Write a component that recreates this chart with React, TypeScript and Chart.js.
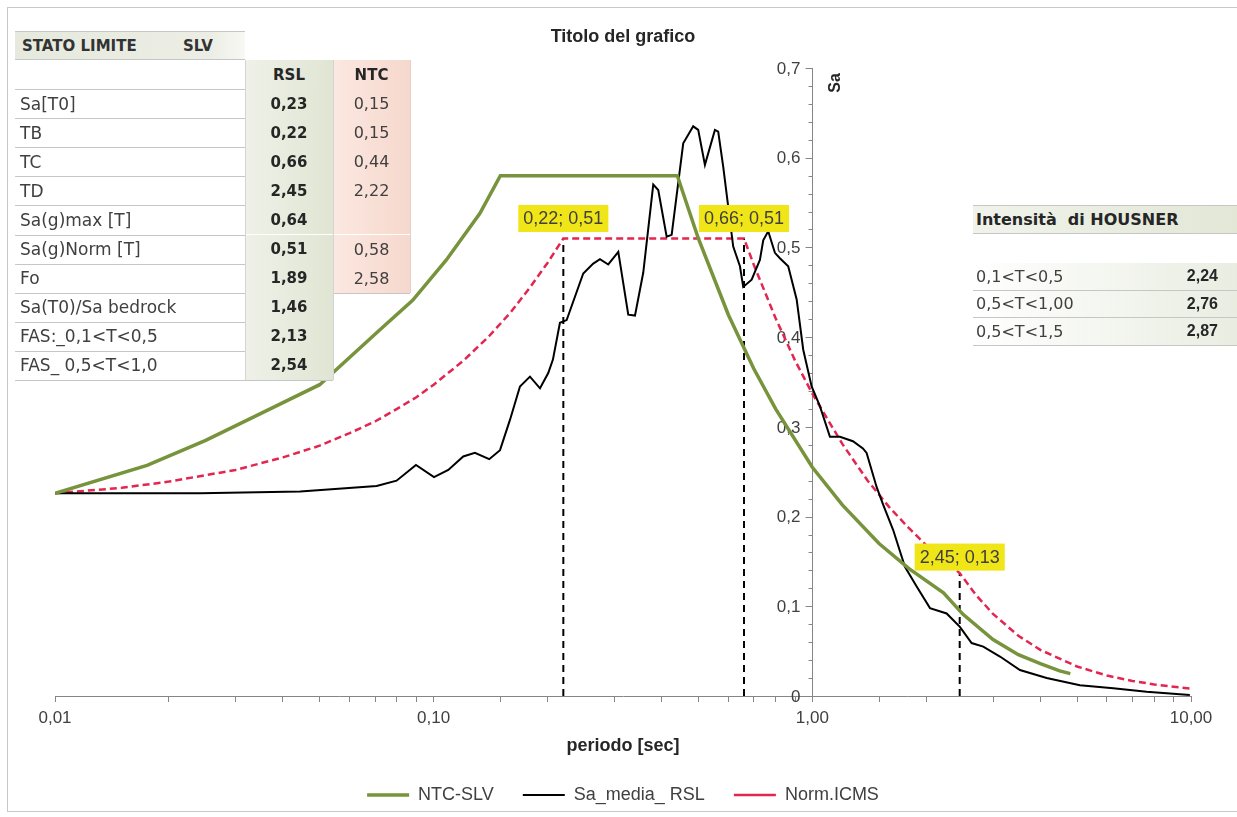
import React, { useEffect, useRef } from 'react';
import { Chart, registerables } from 'chart.js';

Chart.register(...registerables);

// ---------------- DATA ----------------
const seriesNames = ['NTC-SLV', 'Sa_media_ RSL', 'Norm.ICMS'];

const periodNTC = [0.01, 0.0175, 0.025, 0.035, 0.05, 0.072, 0.088, 0.108, 0.1325, 0.15, 0.44, 0.5, 0.6, 0.7, 0.8, 1.0, 1.2, 1.5, 1.8, 2.22, 2.5, 3.0, 3.5, 4.0, 4.5, 4.8];
const saNTC = [0.226, 0.257, 0.285, 0.315, 0.347, 0.408, 0.441, 0.486, 0.538, 0.58, 0.58, 0.51, 0.425, 0.365, 0.32, 0.255, 0.213, 0.17, 0.142, 0.115, 0.091, 0.063, 0.046, 0.036, 0.028, 0.025];

const periodRSL = [0.01, 0.0242, 0.0444, 0.0707, 0.0798, 0.0898, 0.1002, 0.1093, 0.1197, 0.1285, 0.1402, 0.1497, 0.1591, 0.169, 0.1796, 0.1909, 0.2007, 0.2065, 0.2155, 0.2245, 0.2483, 0.2639, 0.2749, 0.2891, 0.3073, 0.3265, 0.3401, 0.3577, 0.3801, 0.3918, 0.4124, 0.4251, 0.4561, 0.4846, 0.4996, 0.5204, 0.553, 0.5642, 0.5816, 0.6181, 0.6439, 0.6569, 0.6914, 0.727, 0.7419, 0.7647, 0.7965, 0.821, 0.8636, 0.9091, 0.9462, 0.9958, 1.047, 1.113, 1.183, 1.28, 1.36, 1.391, 1.478, 1.539, 1.635, 1.756, 1.886, 2.045, 2.263, 2.453, 2.634, 2.827, 3.13, 3.534, 4.157, 5.089, 6.232, 7.636, 9.93];
const saRSL = [0.226, 0.226, 0.228, 0.234, 0.240, 0.2575, 0.244, 0.252, 0.267, 0.271, 0.264, 0.274, 0.308, 0.345, 0.356, 0.343, 0.360, 0.375, 0.416, 0.419, 0.471, 0.482, 0.487, 0.481, 0.495, 0.425, 0.424, 0.472, 0.570, 0.564, 0.512, 0.514, 0.616, 0.635, 0.631, 0.592, 0.631, 0.629, 0.590, 0.501, 0.479, 0.456, 0.464, 0.486, 0.508, 0.518, 0.494, 0.488, 0.479, 0.442, 0.386, 0.345, 0.323, 0.289, 0.289, 0.284, 0.276, 0.271, 0.233, 0.213, 0.185, 0.144, 0.122, 0.098, 0.092, 0.077, 0.059, 0.055, 0.044, 0.029, 0.020, 0.012, 0.0086, 0.0048, 0.0011];

const periodICMS = [0.01, 0.015, 0.02, 0.03, 0.04, 0.05, 0.06, 0.07, 0.08, 0.09, 0.1, 0.12, 0.14, 0.16, 0.18, 0.2, 0.22, 0.66, 0.7, 0.8, 0.9, 1.0, 1.2, 1.4, 1.6, 1.8, 2.0, 2.2, 2.45, 2.7, 3.0, 3.5, 4.0, 5.0, 6.0, 7.0, 8.0, 9.0, 10.0];
const saICMS = [0.226, 0.232, 0.239, 0.252, 0.266, 0.279, 0.293, 0.306, 0.320, 0.333, 0.347, 0.374, 0.401, 0.428, 0.456, 0.483, 0.51, 0.51, 0.481, 0.421, 0.374, 0.337, 0.281, 0.240, 0.210, 0.187, 0.168, 0.153, 0.137, 0.113, 0.0915, 0.0672, 0.0514, 0.0329, 0.0228, 0.0168, 0.0129, 0.0102, 0.0082];

const markerT = [0.22, 0.66, 2.45];
const markerSa = [0.51, 0.51, 0.137];
const markerLabels = ['0,22; 0,51', '0,66; 0,51', '2,45; 0,13'];

const yTickValues = [0, 0.1, 0.2, 0.3, 0.4, 0.5, 0.6, 0.7];
const yTickLabels = ['0', '0,1', '0,2', '0,3', '0,4', '0,5', '0,6', '0,7'];
const xDecadeLabels = ['0,01', '0,10', '1,00', '10,00'];

const slRowLabels = ['Sa[T0]', 'TB', 'TC', 'TD', 'Sa(g)max [T]', 'Sa(g)Norm [T]', 'Fo', 'Sa(T0)/Sa bedrock', 'FAS:_0,1<T<0,5', 'FAS_ 0,5<T<1,0'];
const slRSL = ['0,23', '0,22', '0,66', '2,45', '0,64', '0,51', '1,89', '1,46', '2,13', '2,54'];
const slNTC: (string | null)[] = ['0,15', '0,15', '0,44', '2,22', '', '0,58', '2,58', null, null, null];

const housnerRanges = ['0,1<T<0,5', '0,5<T<1,00', '0,5<T<1,5'];
const housnerValues = ['2,24', '2,76', '2,87'];

// ---------------- STYLE ----------------
const SANS = '"Liberation Sans", Arial, Helvetica, sans-serif';
const TABLE_FONT = '"DejaVu Sans", Verdana, sans-serif';
const AXIS_COLOR = '#868686';
const TEXT_COLOR = '#404040';
const GREEN = '#77933C';
const RED = '#E3264F';
const YELLOW = '#F0E516';

const pairs = (xs: number[], ys: number[]) => xs.map((x, i) => ({ x, y: ys[i] }));
const decadeIndex = (v: number) => {
  const l = Math.log10(v);
  return Math.abs(l - Math.round(l)) < 1e-6 ? Math.round(l) + 2 : -1;
};

const yAxisPlugin = {
  id: 'valueYAxis',
  beforeDatasetsDraw(chart: any) {
    const { ctx, scales } = chart;
    const x = scales.x, y = scales.y;
    const ax = Math.round(x.getPixelForValue(1)) + 0.5;
    const yb = y.getPixelForValue(yTickValues[0]);
    const yt = y.getPixelForValue(yTickValues[yTickValues.length - 1]);
    ctx.save();
    ctx.strokeStyle = AXIS_COLOR;
    ctx.lineWidth = 1;
    ctx.beginPath();
    ctx.moveTo(ax, yb);
    ctx.lineTo(ax, yt);
    // minor ticks
    for (let k = 0; k <= 35; k++) {
      const py = Math.round(y.getPixelForValue(k * 0.02)) + 0.5;
      ctx.moveTo(ax - 4, py);
      ctx.lineTo(ax, py);
    }
    yTickValues.forEach((v) => {
      const py = Math.round(y.getPixelForValue(v)) + 0.5;
      ctx.moveTo(ax - 7, py);
      ctx.lineTo(ax, py);
    });
    ctx.stroke();
    ctx.fillStyle = TEXT_COLOR;
    ctx.font = `17px ${SANS}`;
    ctx.textAlign = 'right';
    ctx.textBaseline = 'middle';
    yTickValues.forEach((v, i) => {
      ctx.fillText(yTickLabels[i], ax - 12, y.getPixelForValue(v) + 1);
    });
    ctx.translate(ax + 23, yt + 15);
    ctx.rotate(-Math.PI / 2);
    ctx.font = `bold 16px ${SANS}`;
    ctx.textAlign = 'center';
    ctx.fillStyle = '#262626';
    ctx.fillText('Sa', 0, 0);
    ctx.restore();
  },
};

const LABEL_OFFSETS = [20, 20, 16];
const markerPlugin = {
  id: 'markerLabels',
  afterDatasetsDraw(chart: any) {
    const { ctx, scales } = chart;
    const x = scales.x, y = scales.y;
    ctx.save();
    ctx.font = `18px ${SANS}`;
    ctx.textAlign = 'center';
    ctx.textBaseline = 'middle';
    markerT.forEach((t, i) => {
      const px = x.getPixelForValue(t);
      const py = y.getPixelForValue(markerSa[i]) - LABEL_OFFSETS[i];
      const w = ctx.measureText(markerLabels[i]).width + 10;
      const h = 27;
      ctx.fillStyle = YELLOW;
      ctx.fillRect(px - w / 2, py - h / 2, w, h);
      ctx.fillStyle = TEXT_COLOR;
      ctx.fillText(markerLabels[i], px, py + 1);
    });
    ctx.restore();
  },
};

function Box(props: any) {
  const { left, top, width, height, style, children } = props;
  return (
    <div
      style={{
        position: 'absolute', left, top, width, height, boxSizing: 'border-box',
        display: 'flex', alignItems: 'center', ...style,
      }}
    >
      {children}
    </div>
  );
}

const LINE_C = '#c6c6c6';
const SAGE = 'linear-gradient(to right, #eff1e8, #e0e5d3)';
const PINK = 'linear-gradient(to right, #fbe8e1, #f6d8cd)';

function StatoLimiteTable() {
  const rowH = 29.1;
  const top0 = 89;
  const els: any[] = [];
  els.push(
    <Box key="t" left={15} top={31} width={230} height={29}
      style={{ background: 'linear-gradient(to right, #e6e9dd, #eceee5 85%, #f8f8f4)', borderTop: `1px solid ${LINE_C}`, borderBottom: `1px solid ${LINE_C}`, fontFamily: TABLE_FONT, fontWeight: 'bold', fontSize: 15, color: '#333' }}>
      <span style={{ position: 'absolute', left: 7 }}>STATO LIMITE</span>
      <span style={{ position: 'absolute', left: 168 }}>SLV</span>
    </Box>
  );
  els.push(
    <Box key="hr" left={245} top={60} width={88} height={29}
      style={{ background: SAGE, justifyContent: 'center', fontFamily: TABLE_FONT, fontWeight: 'bold', fontSize: 15, color: '#262626' }}>RSL</Box>
  );
  els.push(
    <Box key="hn" left={333} top={60} width={77} height={29}
      style={{ background: PINK, justifyContent: 'center', fontFamily: TABLE_FONT, fontWeight: 'bold', fontSize: 15, color: '#262626' }}>NTC</Box>
  );
  els.push(<div key="hl" style={{ position: 'absolute', left: 15, top: top0, width: 395, height: 1, background: LINE_C }} />);
  slRowLabels.forEach((lab, i) => {
    const t = top0 + i * rowH;
    els.push(
      <Box key={'l' + i} left={15} top={t} width={230} height={rowH}
        style={{ paddingLeft: 5, fontFamily: TABLE_FONT, fontSize: 17, color: TEXT_COLOR, whiteSpace: 'nowrap' }}>{lab}</Box>
    );
    els.push(
      <Box key={'r' + i} left={245} top={t} width={88} height={rowH}
        style={{ background: SAGE, justifyContent: 'center', fontFamily: TABLE_FONT, fontWeight: 'bold', fontSize: 15, color: '#262626' }}>{slRSL[i]}</Box>
    );
    if (slNTC[i] !== null) {
      els.push(
        <Box key={'n' + i} left={333} top={t} width={77} height={rowH}
          style={{ background: PINK, justifyContent: 'center', fontFamily: TABLE_FONT, fontSize: 16, color: TEXT_COLOR }}>{slNTC[i]}</Box>
      );
    }
    els.push(
      <div key={'b' + i} style={{ position: 'absolute', left: 15, top: Math.round(t + rowH), width: slNTC[i] !== null ? 395 : 318, height: 1, background: LINE_C }} />
    );
  });
  const bottom = Math.round(top0 + slRowLabels.length * rowH);
  els.push(<div key="v1" style={{ position: 'absolute', left: 245, top: 60, width: 1, height: bottom - 60, background: '#d4d4d4' }} />);
  els.push(<div key="v2" style={{ position: 'absolute', left: 333, top: 60, width: 1, height: bottom - 60, background: '#d4d4d4' }} />);
  els.push(<div key="v3" style={{ position: 'absolute', left: 410, top: 60, width: 1, height: Math.round(top0 + 7 * rowH) - 60, background: '#e2cfc8' }} />);
  return <>{els}</>;
}

function HousnerTable() {
  const tops = [263, 290.5, 318];
  const h = 27.7;
  return (
    <>
      <Box left={973} top={205} width={264} height={29}
        style={{ background: 'linear-gradient(to right, #f1f3eb, #e2e7d6)', borderTop: `1px solid ${LINE_C}`, borderBottom: `1px solid ${LINE_C}`, paddingLeft: 3, fontFamily: TABLE_FONT, fontWeight: 'bold', fontSize: 16, color: '#262626', whiteSpace: 'pre' }}>
        {'Intensità  di HOUSNER'}
      </Box>
      <div style={{ position: 'absolute', left: 973, top: 263, width: 264, height: 1, background: LINE_C }} />
      {housnerRanges.map((r, i) => (
        <Box key={i} left={973} top={tops[i]} width={264} height={h}
          style={{ background: 'linear-gradient(to right, #ffffff, #e9ede1)', borderBottom: `1px solid ${LINE_C}`, fontFamily: TABLE_FONT, fontSize: 16, color: TEXT_COLOR }}>
          <span style={{ position: 'absolute', left: 3 }}>{r}</span>
          <span style={{ position: 'absolute', right: 19, fontFamily: SANS, fontWeight: 'bold', fontSize: 16, color: '#262626' }}>{housnerValues[i]}</span>
        </Box>
      ))}
    </>
  );
}

export default function App() {
  const canvasRef = useRef<HTMLCanvasElement | null>(null);

  useEffect(() => {
    const canvas = canvasRef.current;
    if (!canvas) return;
    Chart.defaults.font.family = SANS;
    const lineBase = { pointRadius: 0, pointHoverRadius: 0, fill: false, tension: 0 };
    const chart = new Chart(canvas, {
      type: 'line',
      data: {
        datasets: [
          { ...lineBase, label: seriesNames[0], data: pairs(periodNTC, saNTC), borderColor: GREEN, backgroundColor: GREEN, borderWidth: 3.5 },
          { ...lineBase, label: seriesNames[1], data: pairs(periodRSL, saRSL), borderColor: '#000000', backgroundColor: '#000000', borderWidth: 2 },
          { ...lineBase, label: seriesNames[2], data: pairs(periodICMS, saICMS), borderColor: RED, backgroundColor: RED, borderWidth: 2.5, borderDash: [7, 4] },
          ...markerT.map((t, i) => ({
            ...lineBase,
            label: 'marker' + i,
            data: [{ x: t, y: 0 }, { x: t, y: markerSa[i] }],
            borderColor: '#000000',
            borderWidth: 2,
            borderDash: [7, 5],
          })),
        ],
      } as any,
      options: {
        animation: false,
        responsive: false,
        devicePixelRatio: 1,
        events: [],
        layout: { padding: { left: 55, right: 46, top: 0, bottom: 3 } },
        plugins: {
          title: {
            display: true,
            text: 'Titolo del grafico',
            color: '#262626',
            font: { family: SANS, size: 18, weight: 'bold' },
            padding: { top: 26, bottom: 20.4 },
          },
          legend: {
            display: true,
            position: 'bottom',
            labels: {
              usePointStyle: true,
              pointStyle: 'line',
              pointStyleWidth: 42,
              padding: 29,
              color: TEXT_COLOR,
              font: { family: SANS, size: 18 },
              filter: (item: any) => item.datasetIndex < 3,
            },
          },
          tooltip: { enabled: false },
        },
        scales: {
          x: {
            type: 'logarithmic',
            min: 0.01,
            max: 10,
            position: 'bottom',
            border: { display: true, color: AXIS_COLOR, width: 1 },
            grid: { display: true, drawOnChartArea: false, drawTicks: true, tickLength: 6, color: AXIS_COLOR },
            ticks: {
              autoSkip: false,
              maxRotation: 0,
              minRotation: 0,
              padding: 6,
              color: TEXT_COLOR,
              font: { family: SANS, size: 17 },
              callback: (v: any) => {
                const k = decadeIndex(Number(v));
                return k >= 0 && k < xDecadeLabels.length ? xDecadeLabels[k] : '';
              },
            },
            title: {
              display: true,
              text: 'periodo [sec]',
              color: '#262626',
              font: { family: SANS, size: 18, weight: 'bold' },
              padding: { top: 1, bottom: 0 },
            },
          },
          y: { type: 'linear', min: 0, max: 0.7, display: false },
        },
      } as any,
      plugins: [yAxisPlugin, markerPlugin],
    });
    return () => chart.destroy();
  }, []);

  return (
    <div style={{ position: 'absolute', left: 0, top: 0, width: 1237, height: 817, background: '#ffffff', overflow: 'hidden' }}>
      <canvas ref={canvasRef} width={1237} height={817} style={{ display: 'block', position: 'absolute', left: 0, top: 0 }} />
      <div style={{ position: 'absolute', left: 7, top: 7, width: 1240, height: 805, border: '1px solid #c8c8c8', boxSizing: 'border-box', pointerEvents: 'none' }} />
      <StatoLimiteTable />
      <HousnerTable />
    </div>
  );
}
